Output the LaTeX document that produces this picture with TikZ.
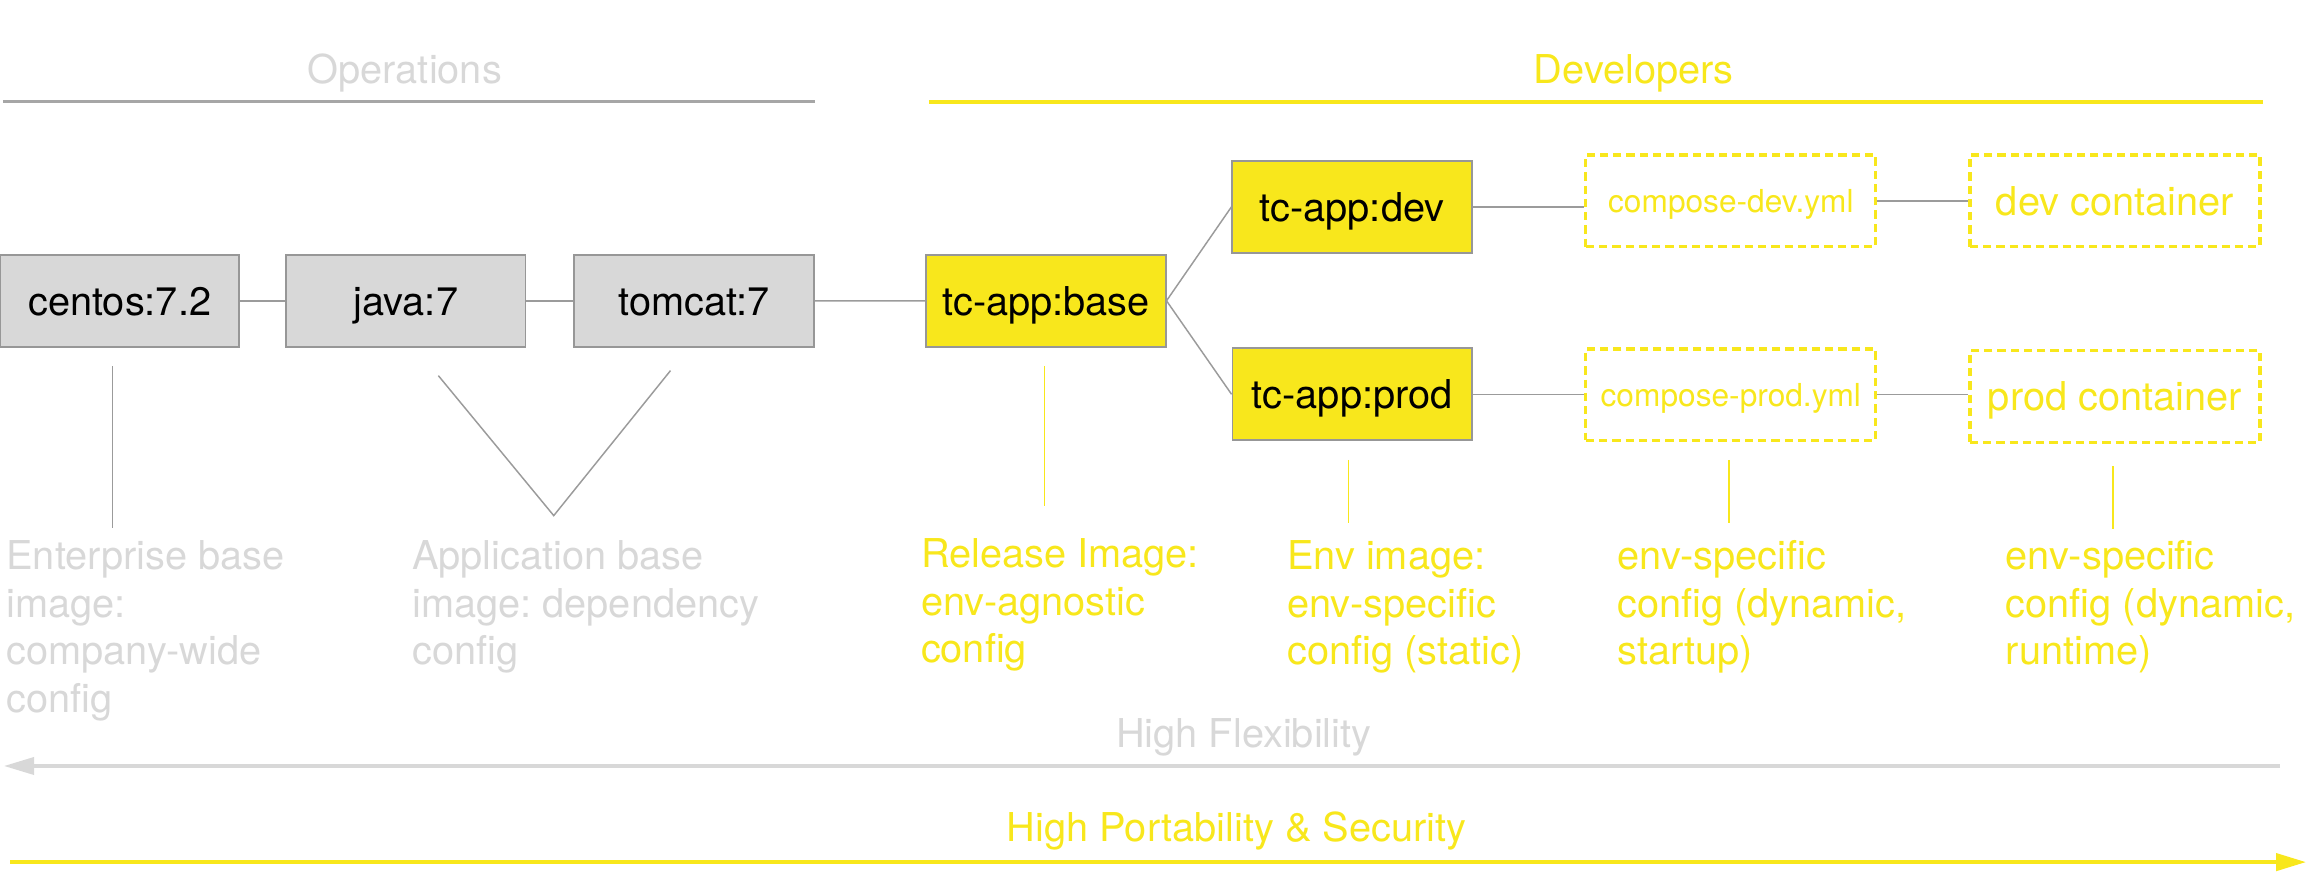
\documentclass[tikz,border=0pt]{standalone}
\usepackage{fontspec}
\setmainfont{TeX Gyre Heros}
\usetikzlibrary{arrows.meta}
\frenchspacing
\definecolor{skyellow}{HTML}{F8E71C}
\definecolor{lgray}{HTML}{D8D8D8}
\definecolor{mgray}{HTML}{9B9B9B}
\definecolor{bordergray}{HTML}{979797}
\definecolor{opgray}{HTML}{A6A6A6}
\tikzset{
  bigfont/.style={font=\frenchspacing\fontsize{13.5pt}{16.15pt}\selectfont},
  smallfont/.style={font=\fontsize{10.75pt}{13pt}\selectfont},
  imgbox/.style={draw=bordergray, line width=0.6pt, inner sep=0pt,
    minimum width=81.3pt, minimum height=31.25pt, bigfont,
    text height=9.7pt, text depth=0pt, text=black},
  graybox/.style={imgbox, fill=lgray},
  yellowbox/.style={imgbox, fill=skyellow},
  dashbox/.style={draw=skyellow, line width=1.12pt, dash pattern=on 2.8pt off 1.7pt,
    inner sep=0pt, minimum width=98.5pt, minimum height=31.1pt, text=skyellow},
  conn/.style={draw=mgray, line width=0.5pt},
  gcallout/.style={draw=mgray, line width=0.5pt},
  ycallout/.style={draw=skyellow, line width=0.5pt},
  label/.style={anchor=north west, inner sep=0pt, align=left, bigfont},
  heading/.style={anchor=base, inner sep=0pt, bigfont},
  bighead/.style={-{Triangle[length=10.2pt, width=5.8pt]}},
}
\begin{document}
\begin{tikzpicture}[x=0.5pt, y=-0.5pt]
\useasboundingbox (0,0) rectangle (1568,592.4);

% headings
\node[heading, text=lgray] (ops) at (275,56.6) {Operations};
\node[heading, text=skyellow] (devs) at (1110,56.6) {Developers};
\coordinate (opsL) at (2,69.1);
\coordinate (opsR) at (554,69.1);
\coordinate (devsL) at (631,69.3);
\coordinate (devsR) at (1537.6,69.3);
\draw[opgray, line width=1.15pt] (opsL) -- (opsR);
\draw[skyellow, line width=1.36pt] (devsL) -- (devsR);

% image boxes
\node[graybox] (centos) at (81.3,204.4) {centos:7.2};
\node[graybox] (java) at (275.75,204.4) {java:7};
\node[graybox] (tomcat) at (471.5,204.4) {tomcat:7};
\node[yellowbox] (base) at (710.6,204.35) {tc-app:base};
\node[yellowbox] (dev) at (918.5,140.55) {tc-app:dev};
\node[yellowbox] (prod) at (918.6,267.9) {tc-app:prod};

% dashed boxes
\node[dashbox, smallfont, text height=7.7pt, text depth=0pt] (cdev) at (1175.85,136.4) {compose-dev.yml};
\node[dashbox, bigfont, text height=9.7pt, text depth=0pt] (devc) at (1436.8,136.4) {dev container};
\node[dashbox, smallfont, text height=7.7pt, text depth=0pt] (cprod) at (1175.85,268.15) {compose-prod.yml};
\node[dashbox, bigfont, text height=9.7pt, text depth=0pt] (prodc) at (1436.8,269.4) {prod container};

% connectors
\draw[conn] (centos) -- (java);
\draw[conn] (java) -- (tomcat);
\draw[conn] (tomcat) -- (base);
\draw[conn] (base.east) -- (dev.west);
\draw[conn] (base.east) -- (prod.west);
\draw[conn] (dev.east) -- (dev.east -| cdev.west);
\draw[conn] (cdev.east) -- (devc.west);
\draw[conn] (prod.east) -- (prod.east -| cprod.west);
\draw[conn] (cprod.east) -- (cprod.east -| prodc.west);

% callout lines
\coordinate (c1a) at (76.3,248.7);
\coordinate (c1b) at (76.3,358.5);
\coordinate (v1) at (297.8,255.2);
\coordinate (v2) at (376.2,350.3);
\coordinate (v3) at (455.5,251.8);
\coordinate (c3a) at (709.7,248.5);
\coordinate (c3b) at (709.7,343.5);
\coordinate (c4a) at (916.3,312.5);
\coordinate (c4b) at (916.3,355.5);
\coordinate (c5a) at (1174.7,312.5);
\coordinate (c5b) at (1174.7,355.5);
\coordinate (c6a) at (1435.6,316.6);
\coordinate (c6b) at (1435.6,359.6);
\draw[gcallout] (c1a) -- (c1b);
\draw[gcallout] (v1) -- (v2) -- (v3);
\draw[ycallout] (c3a) -- (c3b);
\draw[ycallout] (c4a) -- (c4b);
\draw[ycallout] (c5a) -- (c5b);
\draw[ycallout] (c6a) -- (c6b);

% labels
\node[label, text=lgray] (lent) at (4,366.9) {Enterprise base\\image:\\company-wide\\config};
\node[label, text=lgray] (lapp) at (279.7,366.9) {Application base\\image: dependency\\config};
\node[label, text=skyellow] (lrel) at (625.3,365.7) {Release Image:\\env-agnostic\\config};
\node[label, text=skyellow] (lenv) at (874.1,366.9) {Env image:\\env-specific\\config (static)};
\node[label, text=skyellow] (lstart) at (1098.4,366.9) {env-specific\\config (dynamic,\\startup)};
\node[label, text=skyellow] (lrun) at (1362.3,366.9) {env-specific\\config (dynamic,\\runtime)};

% bottom arrows
\node[heading, text=lgray] (flex) at (845,508) {High Flexibility};
\node[heading, text=skyellow] (port) at (840,571.8) {High Portability \& Security};
\coordinate (flexR) at (1549,520.4);
\coordinate (flexL) at (2.7,520.4);
\coordinate (portL) at (7,585.7);
\coordinate (portR) at (1566.7,585.7);
\draw[lgray, line width=1.15pt, bighead] (flexR) -- (flexL);
\draw[skyellow, line width=1.36pt, bighead] (portL) -- (portR);
\end{tikzpicture}
\end{document}
